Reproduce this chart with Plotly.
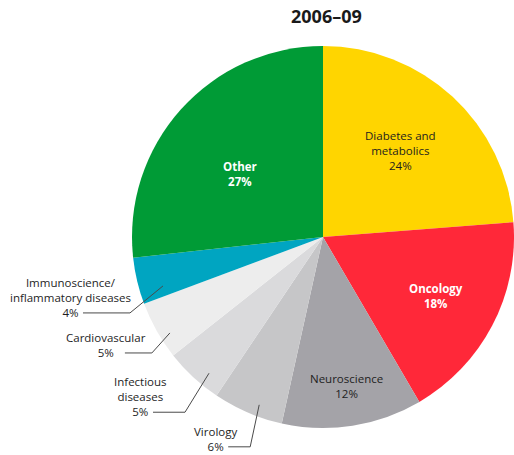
import math
import plotly.graph_objects as go

# ---- data ----
categories = ["Diabetes and metabolics", "Oncology", "Neuroscience", "Virology",
              "Infectious diseases", "Cardiovascular",
              "Immunoscience/inflammatory diseases", "Other"]
values = [24, 18, 12, 6, 5, 5, 4, 27]
display_names = ["Diabetes and<br>metabolics", "Oncology", "Neuroscience", "Virology",
                 "Infectious<br>diseases", "Cardiovascular",
                 "Immunoscience/<br>inflammatory diseases", "Other"]
title_text = "2006–09"

# ---- styles ----
colors = ["#FFD500", "#FF2839", "#A4A3A8", "#C6C6C8", "#DADADC", "#EDEDED",
          "#00A5C1", "#009B36"]
W, H = 514, 455
CX, CY, R = 323, 237, 191
FONT = "Open Sans"
DARK = "#1e1e1e"
LINE_H = 15.5
FS = 11.5

# inside labels: slice index -> (angle offset deg, radius fraction, colour, bold)
inside = {0: (-1, 0.61, DARK, False), 1: (0, 0.67, "white", True),
          2: (0, 0.79, DARK, False), 7: (-4.5, 0.547, "white", True)}
# outside labels: slice index ->
# (position within slice, start radius fraction, elbow dx, elbow dy, horizontal length, text centre offset)
outside = {6: (0.245, 0.876, -33, 27, -47, -12),
           5: (0.35, 0.946, -18, 20, -27, -19),
           4: (0.34, 0.93, -24, 39, -32, -13),
           3: (0.39, 0.94, -9, 42, -22, -13)}


def px(x, y):
    return x / W, 1 - y / H


def polar(theta_deg, frac):
    t = math.radians(theta_deg)
    return CX + R * frac * math.sin(t), CY - R * frac * math.cos(t)


total = sum(values)
starts, spans = [], []
cum = 0
for v in values:
    starts.append(cum / total * 360)
    spans.append(v / total * 360)
    cum += v

dx0, dy1 = px(CX - R, CY + R)
dx1, dy0 = px(CX + R, CY - R)
fig = go.Figure(go.Pie(
    labels=categories, values=values, sort=False, direction="clockwise",
    rotation=0, marker=dict(colors=colors, line=dict(width=0)),
    textinfo="none", hoverinfo="label+percent", showlegend=False,
    domain=dict(x=[max(dx0, 0), min(dx1, 1)], y=[max(dy1, 0), min(dy0, 1)]),
))

annotations = []
shapes = []

for i, (aoff, frac, col, bold) in inside.items():
    x, y = polar(starts[i] + spans[i] / 2 + aoff, frac)
    txt = f"{display_names[i]}<br>{values[i]}%"
    if bold:
        txt = f"<b>{txt}</b>"
    ax, ay = px(x, y)
    annotations.append(dict(x=ax, y=ay, xref="paper", yref="paper", text=txt,
                            showarrow=False, xanchor="center", yanchor="middle",
                            align="center", font=dict(family=FONT, size=FS, color=col)))

for i, (pos, sf, edx, edy, hl, toff) in outside.items():
    x0, y0 = polar(starts[i] + spans[i] * pos, sf)
    x1, y1 = x0 + edx, y0 + edy
    x2, y2 = x1 + hl, y1
    p0, p1, p2 = px(x0, y0), px(x1, y1), px(x2, y2)
    shapes.append(dict(type="path", xref="paper", yref="paper",
                       path=f"M {p0[0]},{p0[1]} L {p1[0]},{p1[1]} L {p2[0]},{p2[1]}",
                       line=dict(color="#4a4a4a", width=1)))
    txt = f"{display_names[i]}<br>{values[i]}%"
    n = txt.count("<br>") + 1
    cy_txt = y2 - (n - 1) * LINE_H / 2
    ax, ay = px(x2 + toff, cy_txt)
    annotations.append(dict(x=ax, y=ay, xref="paper", yref="paper", text=txt,
                            showarrow=False, xanchor="center", yanchor="middle",
                            align="center", font=dict(family=FONT, size=FS, color=DARK)))

tx, ty = px(326, 16)
annotations.append(dict(x=tx, y=ty, xref="paper", yref="paper", text=f"<b>{title_text}</b>",
                        showarrow=False, xanchor="center", yanchor="middle",
                        font=dict(family=FONT, size=18, color="#1a1a1a")))

fig.update_layout(width=W, height=H, margin=dict(l=0, r=0, t=0, b=0),
                  paper_bgcolor="white", plot_bgcolor="white",
                  annotations=annotations, shapes=shapes)

fig.write_html("out.html", config={"displayModeBar": False},
               post_script="document.body.style.margin='0';")
